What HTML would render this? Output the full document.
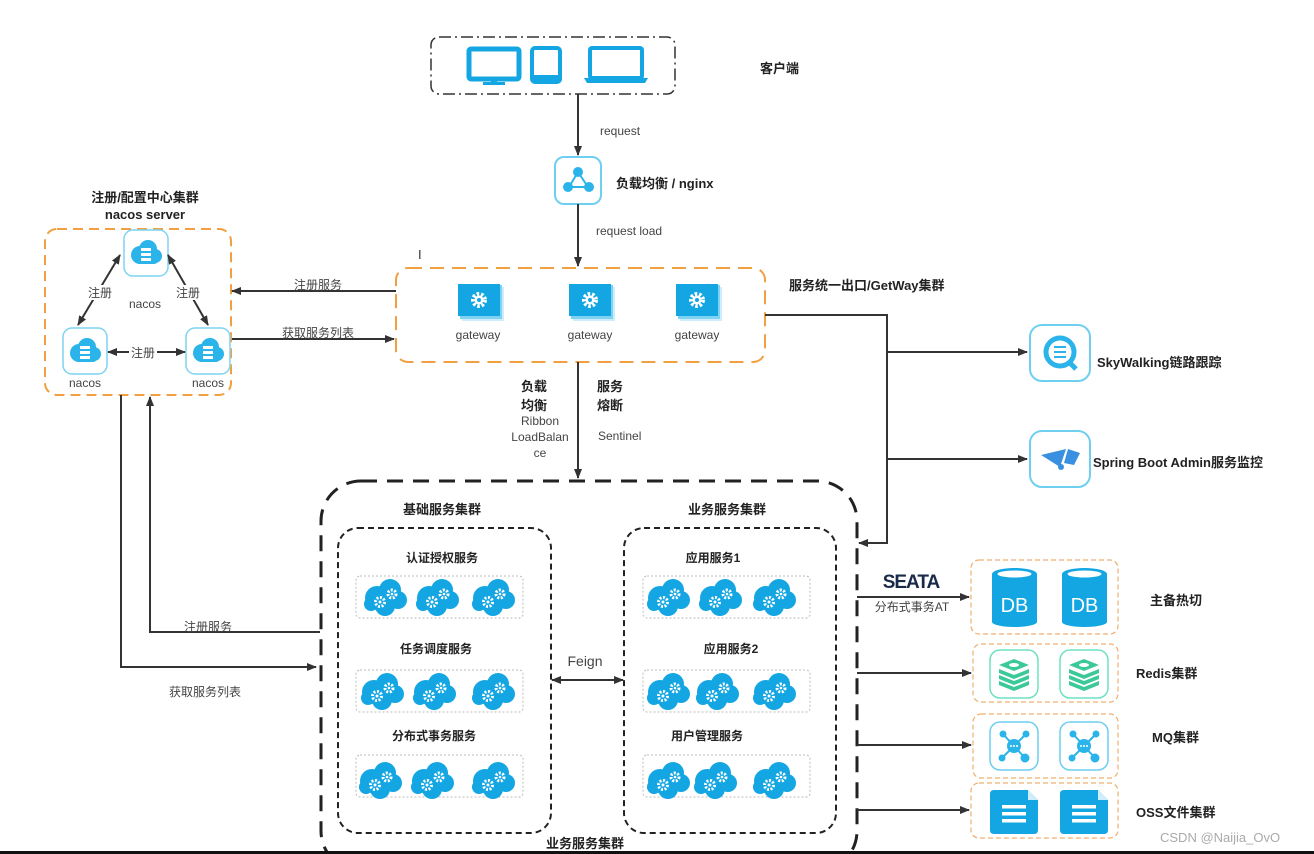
<!DOCTYPE html>
<html><head><meta charset="utf-8"><style>
html,body{margin:0;padding:0;background:#fff;width:1314px;height:854px;overflow:hidden}
svg{display:block}
text{font-family:"Liberation Sans","Noto Sans CJK SC",sans-serif;fill:#333}
.b{font-weight:bold;font-size:13px;fill:#222}
.n{font-size:12px;fill:#444}
</style></head><body>
<svg width="1314" height="854" viewBox="0 0 1314 854" xmlns="http://www.w3.org/2000/svg">
<defs>
<marker id="ar" markerWidth="10" markerHeight="10" refX="9" refY="5" orient="auto" markerUnits="userSpaceOnUse"><path d="M0,1 L10,5 L0,9 Z" fill="#333"/></marker>
<marker id="al" markerWidth="10" markerHeight="10" refX="1" refY="5" orient="auto" markerUnits="userSpaceOnUse"><path d="M10,1 L0,5 L10,9 Z" fill="#333"/></marker>
<g id="cloud">
<circle cx="-8" cy="2" r="12" fill="#13a6e2"/><circle cx="5" cy="-6" r="11" fill="#13a6e2"/><circle cx="13" cy="4" r="9" fill="#13a6e2"/><circle cx="0" cy="10" r="10" fill="#13a6e2"/><circle cx="-14" cy="8" r="7" fill="#13a6e2"/>
<circle cx="-5" cy="6" r="4.5" fill="none" stroke="#fff" stroke-width="3" stroke-dasharray="2 1.5"/><circle cx="-5" cy="6" r="1.5" fill="#fff"/>
<circle cx="7" cy="-2" r="4" fill="none" stroke="#fff" stroke-width="3" stroke-dasharray="2 1.5"/><circle cx="7" cy="-2" r="1.3" fill="#fff"/>
</g>
<g id="nacos">
<rect x="0" y="0" width="44" height="46" rx="9" fill="#fff" stroke="#7fd3f2" stroke-width="1.5"/>
<circle cx="16" cy="25" r="9" fill="#2bb4ea"/><circle cx="24" cy="19" r="9" fill="#2bb4ea"/><circle cx="31" cy="26" r="7" fill="#2bb4ea"/><rect x="12" y="24" width="22" height="10" rx="4" fill="#2bb4ea"/>
<rect x="17" y="18" width="10" height="3" fill="#fff"/><rect x="17" y="23" width="10" height="3" fill="#fff"/><rect x="17" y="28" width="10" height="3" fill="#fff"/>
</g>
<g id="gw">
<rect x="4" y="3" width="42" height="34" fill="#cbeefa"/><rect x="2" y="1" width="42" height="34" fill="#7fd3f2"/>
<rect x="0" y="0" width="42" height="32" fill="#13a6e2"/>
<circle cx="21" cy="16" r="6" fill="none" stroke="#fff" stroke-width="4" stroke-dasharray="2.5 1.8"/><circle cx="21" cy="16" r="4.5" fill="#fff"/><circle cx="21" cy="16" r="2" fill="#13a6e2"/>
</g>
<g id="db">
<rect x="0" y="6" width="45" height="48" fill="#13a6e2"/><ellipse cx="22.5" cy="6" rx="22.5" ry="6" fill="#13a6e2"/><ellipse cx="22.5" cy="6" rx="17" ry="3.5" fill="#fff"/><ellipse cx="22.5" cy="54" rx="22.5" ry="5" fill="#13a6e2"/>
<text x="22.5" y="44" text-anchor="middle" style="font-size:20px;fill:#fff">DB</text>
</g>
<g id="redis">
<rect x="0" y="0" width="48" height="48" rx="10" fill="#fff" stroke="#6fe0c0" stroke-width="1.5"/>
<path d="M9,31 l15,6 l15,-6 v4 l-15,6 l-15,-6z" fill="#3cc99a"/><path d="M9,25 l15,6 l15,-6 v4 l-15,6 l-15,-6z" fill="#3cc99a"/><path d="M9,19 l15,6 l15,-6 v4 l-15,6 l-15,-6z" fill="#3cc99a"/><path d="M9,15 l15,-6 l15,6 l-15,6z" fill="#3cc99a"/><ellipse cx="24" cy="15" rx="5" ry="2" fill="#fff"/>
</g>
<g id="mq">
<rect x="0" y="0" width="48" height="48" rx="10" fill="#fff" stroke="#6fcff0" stroke-width="1.5"/>
<g stroke="#2bb4ea" stroke-width="2"><line x1="24" y1="24" x2="13" y2="12"/><line x1="24" y1="24" x2="36" y2="12"/><line x1="24" y1="24" x2="12" y2="36"/><line x1="24" y1="24" x2="35" y2="36"/></g>
<circle cx="24" cy="24" r="7" fill="#2bb4ea"/><circle cx="13" cy="12" r="3.5" fill="#2bb4ea"/><circle cx="36" cy="12" r="3.5" fill="#2bb4ea"/><circle cx="12" cy="36" r="3.5" fill="#2bb4ea"/><circle cx="35" cy="36" r="4.5" fill="#2bb4ea"/>
<circle cx="21" cy="24" r="1" fill="#fff"/><circle cx="24" cy="24" r="1" fill="#fff"/><circle cx="27" cy="24" r="1" fill="#fff"/>
</g>
<g id="oss">
<path d="M0,4 q0,-4 4,-4 h34 l10,10 v30 q0,4 -4,4 h-40 q-4,0 -4,-4z" fill="#13a6e2"/><path d="M38,0 v10 h10z" fill="#cdeefa"/>
<rect x="12" y="15" width="24" height="3.5" fill="#fff"/><rect x="12" y="22" width="24" height="3.5" fill="#fff"/><rect x="12" y="29" width="24" height="3.5" fill="#fff"/>
</g>
</defs>

<!-- client -->
<rect x="431" y="37" width="244" height="57" rx="8" fill="none" stroke="#333" stroke-width="1.5" stroke-dasharray="12 4 2 4"/>
<g fill="#13a6e2">
<rect x="469" y="49" width="50" height="30" rx="2" fill="none" stroke="#13a6e2" stroke-width="5"/><rect x="491" y="79" width="6" height="4"/><rect x="483" y="82" width="22" height="3"/>
<rect x="532" y="48" width="28" height="34" rx="3" fill="none" stroke="#13a6e2" stroke-width="4"/><rect x="532" y="75" width="28" height="7"/>
<rect x="590" y="48" width="52" height="30" rx="2" fill="none" stroke="#13a6e2" stroke-width="4"/><path d="M584,78 h64 l-3,5 h-58z"/>
</g>
<text x="760" y="73" class="b">客户端</text>
<line x1="578" y1="94" x2="578" y2="155" stroke="#333" stroke-width="2" marker-end="url(#ar)"/>
<text x="600" y="135" class="n">request</text>
<rect x="555" y="157" width="46" height="47" rx="9" fill="#fff" stroke="#6fcff0" stroke-width="2"/>
<g fill="#2bb4ea" stroke="#2bb4ea" stroke-width="2"><line x1="578" y1="172" x2="569" y2="187"/><line x1="578" y1="172" x2="588" y2="187"/><line x1="569" y1="187" x2="588" y2="187"/><circle cx="578" cy="172" r="4"/><circle cx="568" cy="187" r="4"/><circle cx="589" cy="187" r="4"/></g>
<text x="616" y="188" class="b">负载均衡 / nginx</text>
<line x1="578" y1="204" x2="578" y2="266" stroke="#333" stroke-width="2" marker-end="url(#ar)"/>
<text x="596" y="235" class="n">request load</text>
<text x="418" y="259" style="font-size:13px;fill:#333">I</text>

<!-- gateway -->
<rect x="396" y="268" width="369" height="94" rx="12" fill="none" stroke="#f0a040" stroke-width="2" stroke-dasharray="14 8"/>
<use href="#gw" x="458" y="284"/><use href="#gw" x="569" y="284"/><use href="#gw" x="676" y="284"/>
<text x="478" y="339" text-anchor="middle" class="n">gateway</text><text x="590" y="339" text-anchor="middle" class="n">gateway</text><text x="697" y="339" text-anchor="middle" class="n">gateway</text>
<text x="789" y="290" class="b">服务统一出口/GetWay集群</text>

<!-- nacos -->
<text x="145" y="202" text-anchor="middle" class="b">注册/配置中心集群</text>
<text x="145" y="219" text-anchor="middle" class="b">nacos server</text>
<rect x="45" y="229" width="186" height="166" rx="12" fill="none" stroke="#f0a040" stroke-width="2" stroke-dasharray="10 6"/>
<use href="#nacos" x="124" y="230"/><use href="#nacos" x="63" y="328"/><use href="#nacos" x="186" y="328"/>
<text x="145" y="308" text-anchor="middle" class="n">nacos</text><text x="85" y="387" text-anchor="middle" class="n">nacos</text><text x="208" y="387" text-anchor="middle" class="n">nacos</text>
<line x1="78" y1="325" x2="120" y2="255" stroke="#333" stroke-width="2" marker-start="url(#al)" marker-end="url(#ar)"/>
<line x1="168" y1="255" x2="208" y2="325" stroke="#333" stroke-width="2" marker-start="url(#al)" marker-end="url(#ar)"/>
<line x1="108" y1="352" x2="185" y2="352" stroke="#333" stroke-width="2" marker-start="url(#al)" marker-end="url(#ar)"/>
<rect x="86" y="285" width="28" height="15" fill="#fff"/><text x="100" y="297" text-anchor="middle" class="n">注册</text>
<rect x="174" y="285" width="28" height="15" fill="#fff"/><text x="188" y="297" text-anchor="middle" class="n">注册</text>
<rect x="129" y="345" width="28" height="15" fill="#fff"/><text x="143" y="357" text-anchor="middle" class="n">注册</text>
<line x1="396" y1="291" x2="232" y2="291" stroke="#333" stroke-width="2" marker-end="url(#ar)"/>
<text x="318" y="289" text-anchor="middle" class="n">注册服务</text>
<line x1="232" y1="339" x2="394" y2="339" stroke="#333" stroke-width="2" marker-end="url(#ar)"/>
<text x="318" y="337" text-anchor="middle" class="n">获取服务列表</text>
<polyline points="121,395 121,667 316,667" fill="none" stroke="#333" stroke-width="2" marker-end="url(#ar)"/>
<text x="205" y="696" text-anchor="middle" class="n">获取服务列表</text>
<polyline points="320,632 150,632 150,397" fill="none" stroke="#333" stroke-width="2" marker-end="url(#ar)"/>
<text x="208" y="631" text-anchor="middle" class="n">注册服务</text>

<!-- gateway to services -->
<line x1="578" y1="362" x2="578" y2="478" stroke="#333" stroke-width="2" marker-end="url(#ar)"/>
<text x="547" y="391" text-anchor="end" class="b">负载</text><text x="547" y="410" text-anchor="end" class="b">均衡</text>
<text x="540" y="425" text-anchor="middle" class="n">Ribbon</text><text x="540" y="441" text-anchor="middle" class="n">LoadBalan</text><text x="540" y="457" text-anchor="middle" class="n">ce</text>
<text x="597" y="391" class="b">服务</text><text x="597" y="410" class="b">熔断</text>
<text x="598" y="440" class="n">Sentinel</text>

<!-- right monitoring -->
<polyline points="765,315 887,315 887,543 859,543" fill="none" stroke="#333" stroke-width="2" marker-end="url(#ar)"/>
<line x1="887" y1="352" x2="1027" y2="352" stroke="#333" stroke-width="2" marker-end="url(#ar)"/>
<line x1="887" y1="459" x2="1027" y2="459" stroke="#333" stroke-width="2" marker-end="url(#ar)"/>
<rect x="1030" y="325" width="60" height="56" rx="12" fill="#fff" stroke="#6fcff0" stroke-width="2"/>
<circle cx="1060" cy="352" r="14" fill="none" stroke="#2bb4ea" stroke-width="5"/><line x1="1069" y1="362" x2="1076" y2="369" stroke="#2bb4ea" stroke-width="5"/>
<g stroke="#2bb4ea" stroke-width="2"><line x1="1054" y1="347" x2="1066" y2="347"/><line x1="1054" y1="352" x2="1066" y2="352"/><line x1="1054" y1="357" x2="1066" y2="357"/></g>
<text x="1097" y="367" class="b">SkyWalking链路跟踪</text>
<rect x="1030" y="431" width="60" height="56" rx="12" fill="#fff" stroke="#6fcff0" stroke-width="2"/>
<path d="M1041,455 l25,-6 l-6,18 z M1068,449 l12,4 l-6,12 l-10,-2z" fill="#3a90e0"/><circle cx="1061" cy="467" r="3" fill="#3a90e0"/>
<text x="1093" y="467" class="b">Spring Boot Admin服务监控</text>

<!-- big service cluster -->
<rect x="321" y="481" width="536" height="390" rx="40" fill="none" stroke="#222" stroke-width="3" stroke-dasharray="16 10"/>
<text x="442" y="514" text-anchor="middle" class="b">基础服务集群</text>
<text x="727" y="514" text-anchor="middle" class="b">业务服务集群</text>
<rect x="338" y="528" width="213" height="305" rx="20" fill="none" stroke="#222" stroke-width="2" stroke-dasharray="6 4"/>
<rect x="624" y="528" width="212" height="305" rx="20" fill="none" stroke="#222" stroke-width="2" stroke-dasharray="6 4"/>
<text x="442" y="562" text-anchor="middle" class="b" style="font-size:12px">认证授权服务</text>
<text x="436" y="653" text-anchor="middle" class="b" style="font-size:12px">任务调度服务</text>
<text x="434" y="740" text-anchor="middle" class="b" style="font-size:12px">分布式事务服务</text>
<text x="713" y="562" text-anchor="middle" class="b" style="font-size:12px">应用服务1</text>
<text x="731" y="653" text-anchor="middle" class="b" style="font-size:12px">应用服务2</text>
<text x="707" y="740" text-anchor="middle" class="b" style="font-size:12px">用户管理服务</text>
<g fill="none" stroke="#bbb" stroke-width="1" stroke-dasharray="2 2">
<rect x="356" y="576" width="167" height="42" rx="4"/><rect x="356" y="670" width="167" height="42" rx="4"/><rect x="356" y="755" width="167" height="42" rx="4"/>
<rect x="643" y="576" width="167" height="42" rx="4"/><rect x="643" y="670" width="167" height="42" rx="4"/><rect x="643" y="755" width="167" height="42" rx="4"/>
</g>
<use href="#cloud" x="385" y="596"/><use href="#cloud" x="437" y="596"/><use href="#cloud" x="493" y="596"/>
<use href="#cloud" x="382" y="690"/><use href="#cloud" x="434" y="690"/><use href="#cloud" x="493" y="690"/>
<use href="#cloud" x="380" y="779"/><use href="#cloud" x="432" y="779"/><use href="#cloud" x="493" y="779"/>
<use href="#cloud" x="668" y="596"/><use href="#cloud" x="720" y="596"/><use href="#cloud" x="774" y="596"/>
<use href="#cloud" x="668" y="690"/><use href="#cloud" x="717" y="690"/><use href="#cloud" x="774" y="690"/>
<use href="#cloud" x="668" y="779"/><use href="#cloud" x="715" y="779"/><use href="#cloud" x="774" y="779"/>
<line x1="552" y1="680" x2="623" y2="680" stroke="#333" stroke-width="2" marker-start="url(#al)" marker-end="url(#ar)"/>
<text x="585" y="666" text-anchor="middle" style="font-size:14px;fill:#444">Feign</text>
<rect x="540" y="832" width="92" height="18" fill="#fff"/>
<text x="585" y="848" text-anchor="middle" class="b">业务服务集群</text>

<!-- storage -->
<line x1="857" y1="597" x2="969" y2="597" stroke="#333" stroke-width="2" marker-end="url(#ar)"/>
<text x="911" y="588" text-anchor="middle" style="font-size:19px;font-weight:bold;fill:#1a2a4a;letter-spacing:-1px">SEATA</text>
<text x="912" y="611" text-anchor="middle" class="n">分布式事务AT</text>
<line x1="857" y1="673" x2="971" y2="673" stroke="#333" stroke-width="2" marker-end="url(#ar)"/>
<line x1="857" y1="745" x2="971" y2="745" stroke="#333" stroke-width="2" marker-end="url(#ar)"/>
<line x1="857" y1="810" x2="969" y2="810" stroke="#333" stroke-width="2" marker-end="url(#ar)"/>
<g fill="none" stroke="#f0b070" stroke-width="1.2" stroke-dasharray="5 3">
<rect x="971" y="560" width="147" height="74" rx="8"/><rect x="973" y="644" width="145" height="58" rx="8"/><rect x="973" y="714" width="145" height="64" rx="8"/><rect x="971" y="783" width="147" height="55" rx="8"/>
</g>
<use href="#db" x="992" y="568"/><use href="#db" x="1062" y="568"/>
<use href="#redis" x="990" y="650"/><use href="#redis" x="1060" y="650"/>
<use href="#mq" x="990" y="722"/><use href="#mq" x="1060" y="722"/>
<use href="#oss" x="990" y="790"/><use href="#oss" x="1060" y="790"/>
<text x="1150" y="605" class="b">主备热切</text>
<text x="1136" y="678" class="b">Redis集群</text>
<text x="1152" y="742" class="b">MQ集群</text>
<text x="1136" y="817" class="b">OSS文件集群</text>
<text x="1160" y="842" style="font-size:13px;fill:#aaa">CSDN @Naijia_OvO</text>
<rect x="0" y="851" width="1314" height="3" fill="#111"/>
</svg>
</body></html>
